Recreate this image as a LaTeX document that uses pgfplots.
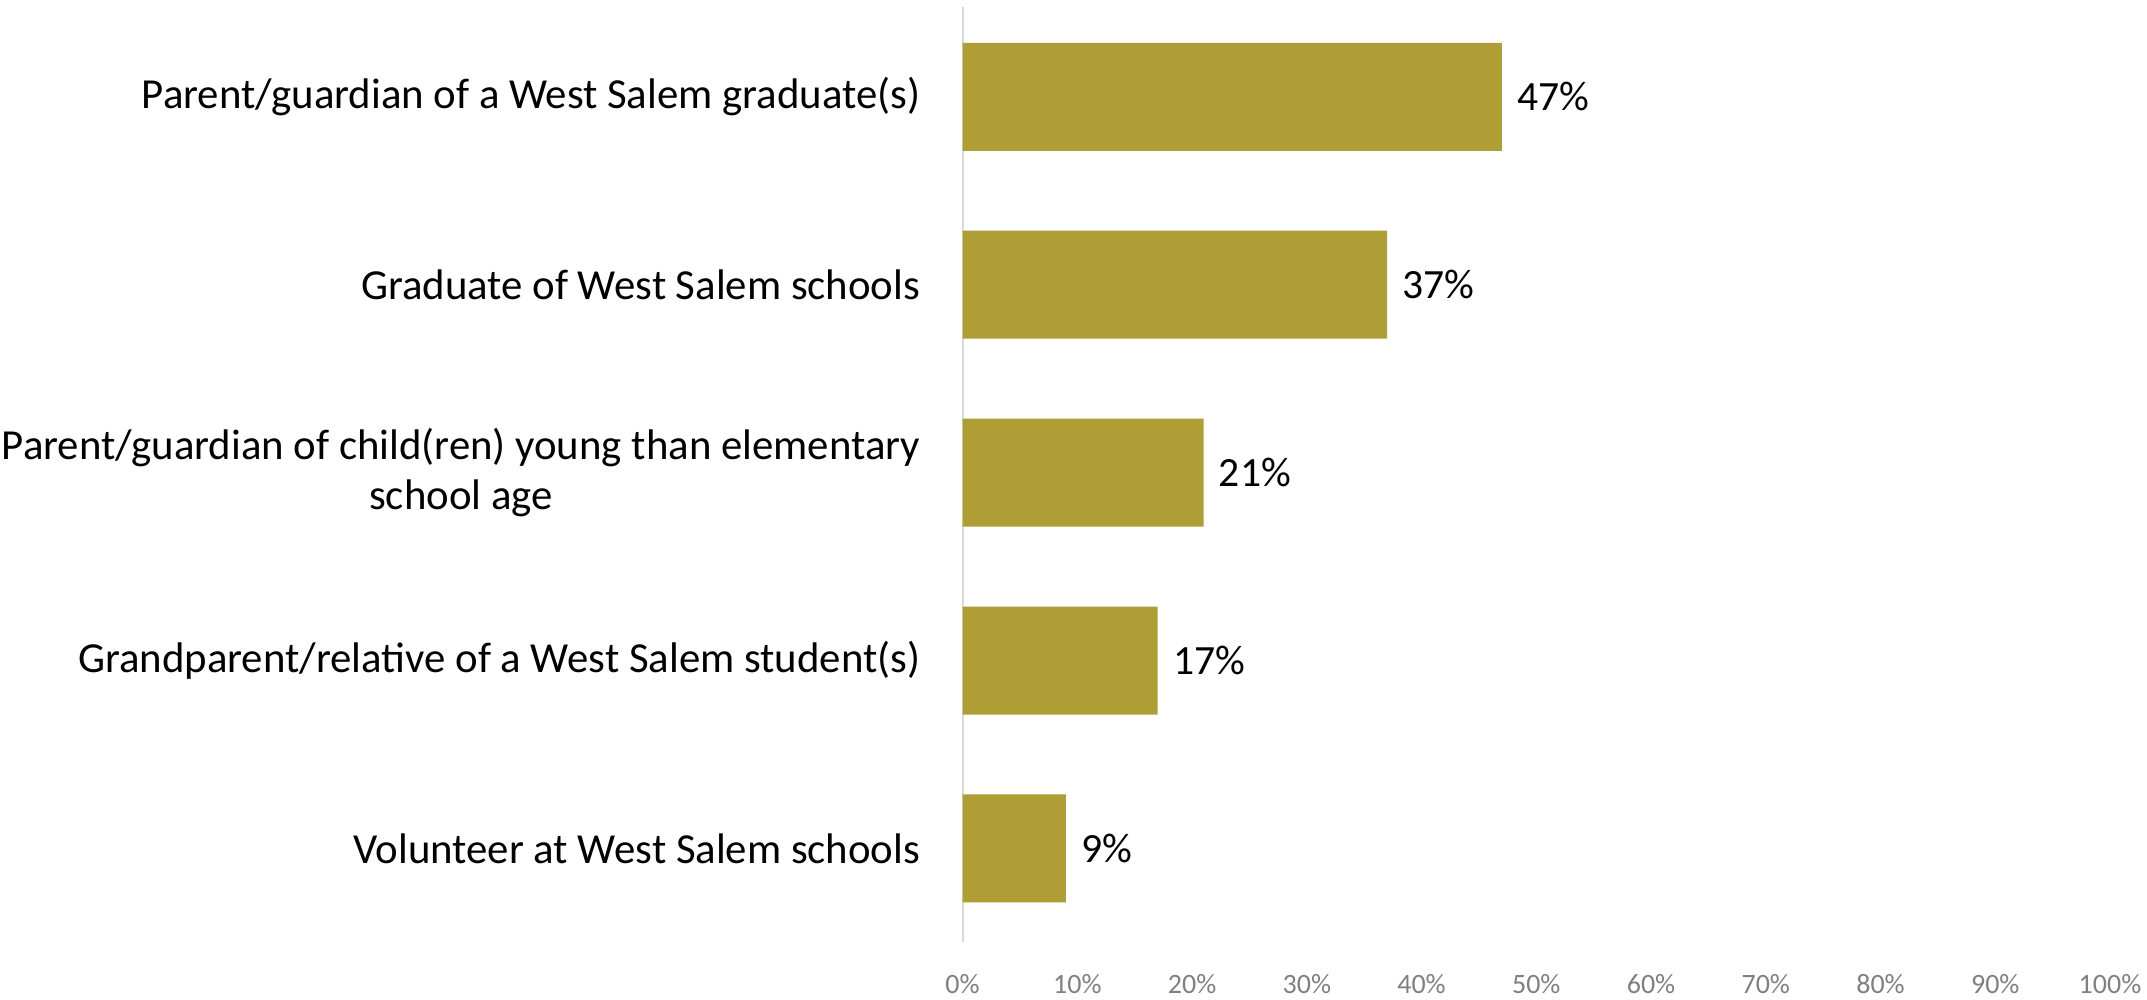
\documentclass[border=0pt]{standalone}
\usepackage{fontspec}
\setmainfont{Carlito}
\usepackage{pgfplots}
\pgfplotsset{compat=1.18}
\definecolor{barcol}{RGB}{174,158,53}
\definecolor{axgray}{RGB}{217,217,217}
\definecolor{tickgray}{RGB}{128,128,128}
\begin{document}
\begin{tikzpicture}
\useasboundingbox (-481.3pt,-29pt) rectangle (592.2pt,471pt);
\begin{axis}[
  at={(0,0)}, anchor=south west,
  scale only axis,
  width=573.7pt, height=467.5pt,
  xbar, bar width=54pt,
  xmin=0, xmax=100, ymin=-0.478, ymax=4.498,
  y dir=reverse,
  axis y line*=left,
  axis x line*=bottom,
  x axis line style={draw=none},
  y axis line style={draw=axgray, line width=1pt},
  major tick length=0pt,
  xtick={0,10,...,100},
  xticklabel={\pgfmathprintnumber{\tick}\%},
  /pgf/number format/assume math mode=true,
  xticklabel style={font=\fontsize{14}{16}\selectfont, text=tickgray, yshift=-12.8pt},
  ytick={0,1,2,3,4},
  yticklabels={{Parent/guardian of a West Salem graduate(s)},{Graduate of West Salem schools},{Parent/guardian of child(ren) young than elementary\\school age},{Grandparent/relative of a West Salem student(s)},{Volunteer at West Salem schools}},
  yticklabel style={font=\fontsize{21.4}{25}\selectfont, align=center, inner sep=0pt, xshift=-21pt, text=black},
  nodes near coords={\pgfmathprintnumber{\pgfplotspointmeta}\%},
  nodes near coords style={font=\fontsize{20.8}{24}\selectfont, text=black, anchor=west, inner sep=0pt, xshift=7.5pt},
]
\addplot[fill=barcol, draw=none] coordinates {(47,0) (37,1) (21,2) (17,3) (9,4)};
\end{axis}
\end{tikzpicture}
\end{document}
